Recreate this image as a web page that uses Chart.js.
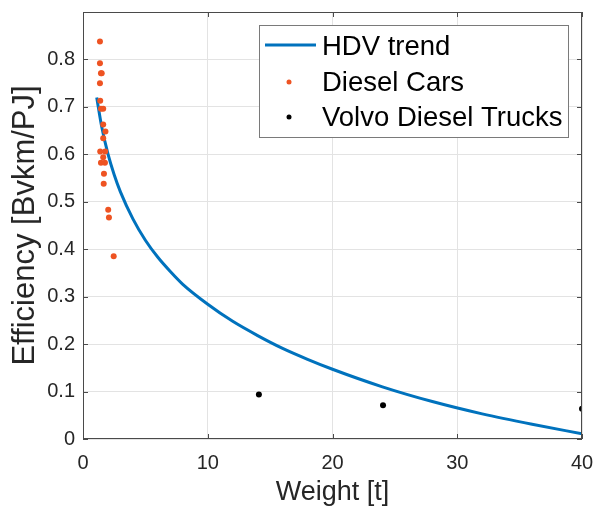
<!DOCTYPE html>
<html>
<head>
<meta charset="utf-8">
<script src="https://cdn.jsdelivr.net/npm/chart.js@4/dist/chart.umd.min.js"></script>
<style>
  html, body { margin: 0; padding: 0; background: #ffffff; }
  #wrap { width: 594px; height: 509px; position: relative; }
</style>
</head>
<body>
<div id="wrap"><canvas id="c" width="594" height="509"></canvas></div>
<script>
// ---- Data ----
const trendWeight = [1.1, 1.5, 2, 2.5, 3, 4, 5, 6, 7, 8, 10, 12, 14, 16, 18, 20, 24, 28, 32, 36, 40];
const trendEfficiency = [0.72, 0.658, 0.601, 0.557, 0.521, 0.464, 0.419, 0.383, 0.353, 0.326, 0.284, 0.248, 0.218, 0.191, 0.168, 0.147, 0.11, 0.079, 0.053, 0.031, 0.011];

const carWeight = [1.36, 1.36, 1.44, 1.5, 1.36, 1.38, 1.44, 1.62, 1.62, 1.8, 1.62, 1.38, 1.78, 1.62, 1.44, 1.76, 1.68, 1.66, 2.02, 2.08, 2.46];
const carEfficiency = [0.838, 0.792, 0.771, 0.771, 0.75, 0.713, 0.696, 0.696, 0.663, 0.648, 0.634, 0.606, 0.606, 0.594, 0.582, 0.582, 0.559, 0.538, 0.483, 0.467, 0.385];

const truckWeight = [14.1, 24.05, 40];
const truckEfficiency = [0.094, 0.071, 0.064];

const seriesNames = ['HDV trend', 'Diesel Cars', 'Volvo Diesel Trucks'];
const xTicks = [0, 10, 20, 30, 40];
const yTicks = [0, 0.1, 0.2, 0.3, 0.4, 0.5, 0.6, 0.7, 0.8];

const xTitle = 'Weight [t]';
const yTitle = 'Efficiency [Bvkm/PJ]';

const BLUE = '#0072BD';
const ORANGE = '#EE5322';
const BLACK = '#000000';
const AXIS = '#4a4a4a';
const GRID = '#e3e3e3';
const FONT = "'Liberation Sans', Arial, Helvetica, sans-serif";

const toPts = (xs, ys) => xs.map((x, i) => ({ x: x, y: ys[i] }));

// Box, inward ticks and legend (MATLAB look)
const matlabAxes = {
  id: 'matlabAxes',
  afterDatasetsDraw(chart) {
    const { ctx, chartArea: a, scales: { x, y } } = chart;
    ctx.save();
    ctx.strokeStyle = AXIS;
    ctx.lineWidth = 1;
    ctx.strokeRect(Math.round(a.left) + 0.5, Math.round(a.top) + 0.5,
                   Math.round(a.right - a.left) - 1, Math.round(a.bottom - a.top) - 1);
    const tl = 5;
    ctx.beginPath();
    xTicks.forEach(v => {
      const px = Math.round(x.getPixelForValue(v)) + 0.5;
      ctx.moveTo(px, a.bottom); ctx.lineTo(px, a.bottom - tl);
      ctx.moveTo(px, a.top); ctx.lineTo(px, a.top + tl);
    });
    yTicks.forEach(v => {
      const py = Math.round(y.getPixelForValue(v)) + 0.5;
      ctx.moveTo(a.left, py); ctx.lineTo(a.left + tl, py);
      ctx.moveTo(a.right, py); ctx.lineTo(a.right - tl, py);
    });
    ctx.stroke();

    // legend
    const lx = 259.5, ly = 25.5, lw = 309, lh = 112;
    ctx.fillStyle = '#ffffff';
    ctx.fillRect(lx, ly, lw, lh);
    ctx.strokeStyle = '#7a7a7a';
    ctx.strokeRect(lx, ly, lw, lh);
    ctx.font = '27.5px ' + FONT;
    ctx.fillStyle = '#000000';
    ctx.textBaseline = 'middle';
    ctx.textAlign = 'left';
    const rows = [47, 83, 118];
    const textX = 322;
    ctx.strokeStyle = BLUE;
    ctx.lineWidth = 3;
    ctx.beginPath();
    ctx.moveTo(265, rows[0] - 2); ctx.lineTo(316, rows[0] - 2);
    ctx.stroke();
    ctx.fillText(seriesNames[0], textX, rows[0]);
    ctx.fillStyle = ORANGE;
    ctx.beginPath(); ctx.arc(289, rows[1] - 1, 2.5, 0, Math.PI * 2); ctx.fill();
    ctx.fillStyle = '#000000';
    ctx.fillText(seriesNames[1], textX, rows[1]);
    ctx.beginPath(); ctx.arc(289, rows[2] - 1, 2.5, 0, Math.PI * 2); ctx.fill();
    ctx.fillText(seriesNames[2], textX, rows[2]);
    ctx.restore();
  }
};

new Chart(document.getElementById('c'), {
  type: 'scatter',
  data: {
    datasets: [
      {
        label: seriesNames[0],
        data: toPts(trendWeight, trendEfficiency),
        showLine: true,
        borderColor: BLUE,
        borderWidth: 3,
        pointRadius: 0,
        cubicInterpolationMode: 'monotone',
        order: 3
      },
      {
        label: seriesNames[1],
        data: toPts(carWeight, carEfficiency),
        showLine: false,
        backgroundColor: ORANGE,
        borderColor: ORANGE,
        borderWidth: 0,
        pointRadius: 3,
        order: 2
      },
      {
        label: seriesNames[2],
        data: toPts(truckWeight, truckEfficiency),
        showLine: false,
        backgroundColor: BLACK,
        borderColor: BLACK,
        borderWidth: 0,
        pointRadius: 3,
        order: 1
      }
    ]
  },
  options: {
    responsive: false,
    animation: false,
    devicePixelRatio: 1,
    layout: { padding: { top: 12, right: 12, left: 0, bottom: 0 } },
    plugins: {
      legend: { display: false },
      tooltip: { enabled: false }
    },
    scales: {
      x: {
        type: 'linear',
        min: 0, max: 40,
        afterBuildTicks: s => { s.ticks = xTicks.map(v => ({ value: v })); },
        afterFit: s => { s.height = 70; s.paddingLeft = 0; s.paddingRight = 0; },
        grid: { color: GRID, drawTicks: false, lineWidth: 1 },
        border: { display: false },
        ticks: {
          padding: 12,
          color: '#262626',
          font: { family: FONT, size: 20 },
          maxRotation: 0,
          callback: v => String(v)
        },
        title: {
          display: true,
          text: xTitle,
          color: '#262626',
          font: { family: FONT, size: 27, lineHeight: 1.2 },
          padding: { top: 0, bottom: 0 }
        }
      },
      y: {
        type: 'linear',
        min: 0, max: 0.9,
        afterBuildTicks: s => { s.ticks = yTicks.map(v => ({ value: v })); },
        afterFit: s => { s.width = 83; s.paddingTop = 0; s.paddingBottom = 0; },
        grid: { color: GRID, drawTicks: false, lineWidth: 1 },
        border: { display: false },
        ticks: {
          padding: 8,
          color: '#262626',
          font: { family: FONT, size: 20 },
          callback: v => String(Math.round(v * 10) / 10)
        },
        title: {
          display: true,
          text: yTitle,
          color: '#262626',
          font: { family: FONT, size: 31, lineHeight: 1.2 },
          padding: { top: 7, bottom: 0 }
        }
      }
    }
  },
  plugins: [matlabAxes]
});
</script>
</body>
</html>
